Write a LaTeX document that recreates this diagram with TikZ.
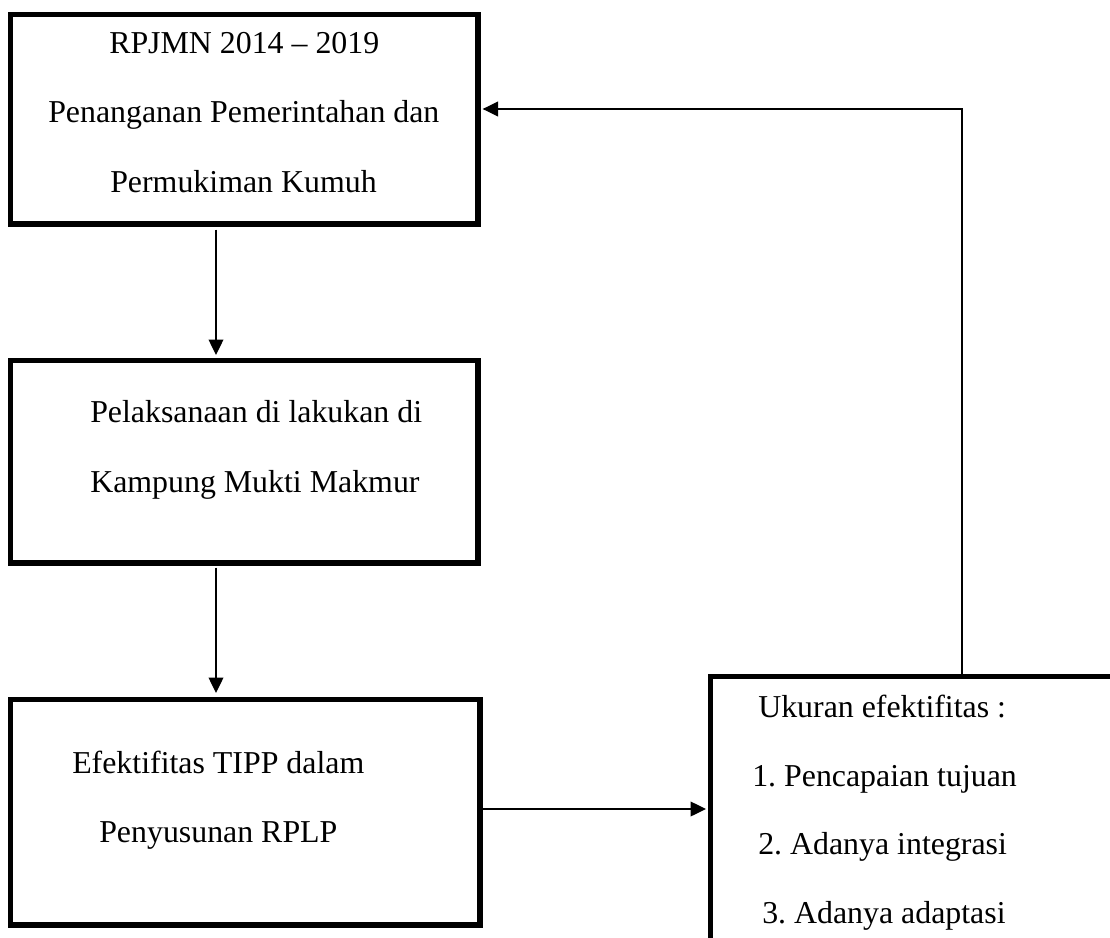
\documentclass[tikz,border=0pt]{standalone}
\usepackage{fontspec}
\setmainfont{Liberation Serif}
\usetikzlibrary{arrows.meta}
\frenchspacing
\begin{document}
\begin{tikzpicture}[x=0.75pt,y=-0.75pt,
  box/.style={draw=black,line width=4pt,rectangle,inner sep=0pt,anchor=north west},
  arr/.style={line width=1pt,-{Triangle[length=11.5pt,width=11pt]}},
  txt/.style={anchor=base west,inner sep=0pt,font=\fontsize{23.9pt}{28pt}\selectfont}]
\useasboundingbox (0,0) rectangle (1110,938);
\clip (0,0) rectangle (1110,938);
% boxes
\node[box,minimum width=350.5pt,minimum height=157pt] (b1) at (8,12) {};
\node[box,minimum width=350.5pt,minimum height=151.75pt] (b2) at (8,358) {};
\node[box,minimum width=352pt,minimum height=169pt] (b3) at (8,697) {};
\node[box,minimum width=375pt,minimum height=300pt] (b4) at (708,674) {};
% texts
\node[txt] (t11) at (109,54) {RPJMN 2014 -- 2019};
\node[txt] (t12) at (48,123) {Penanganan Pemerintahan dan};
\node[txt] (t13) at (110,193) {Permukiman Kumuh};
\node[txt] (t21) at (90,422) {Pelaksanaan di lakukan di};
\node[txt] (t22) at (90,492) {Kampung Mukti Makmur};
\node[txt] (t31) at (72,773) {Efektifitas TIPP dalam};
\node[txt] (t32) at (99,842) {Penyusunan RPLP};
\node[txt] (t41) at (758,717) {Ukuran efektifitas :};
\node[txt] (t42) at (752,786) {1. Pencapaian tujuan};
\node[txt] (t43) at (758,854) {2. Adanya integrasi};
\node[txt] (t44) at (762,923) {3. Adanya adaptasi};
% helper coordinates
\coordinate (xa) at (216,0);
\coordinate (xb) at (962,0);
\coordinate (ya) at (0,809);
\coordinate (yb) at (0,109);
% connectors
\draw[arr,shorten <=2.25pt,shorten >=2.25pt] (b1.south -| xa) -- (b2.north -| xa);
\draw[arr,shorten <=1.5pt,shorten >=3pt] (b2.south -| xa) -- (b3.north -| xa);
\draw[arr,shorten >=1.5pt] (b3.east |- ya) -- (b4.west |- ya);
\draw[arr,shorten >=1.5pt] (b4.north -| xb) |- (b1.east |- yb);
\end{tikzpicture}
\end{document}
